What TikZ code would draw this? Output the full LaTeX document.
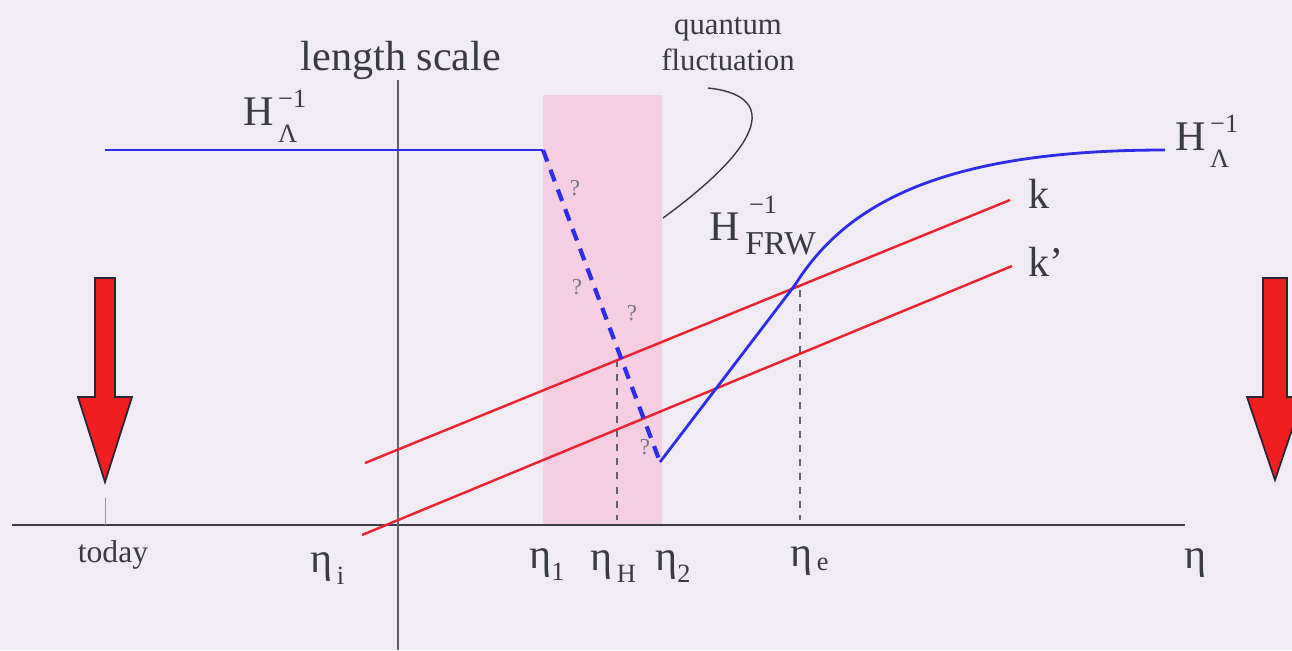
\documentclass[tikz,border=0pt]{standalone}
\usepackage{fontspec}
\setmainfont{Liberation Serif}
\definecolor{bg}{RGB}{241,236,243}
\definecolor{pinkband}{RGB}{245,206,225}
\definecolor{hblue}{RGB}{45,45,235}
\definecolor{kred}{RGB}{235,35,50}
\definecolor{txt}{RGB}{58,58,66}
\definecolor{axiscol}{RGB}{60,60,72}
\definecolor{arrred}{RGB}{240,30,30}
\definecolor{arredge}{RGB}{45,35,55}
\newcommand\bigfont{\fontsize{24}{28}\selectfont}
\newcommand\smallfont{\fontsize{15}{16}\selectfont}
\begin{document}
\begin{tikzpicture}[x=0.02cm,y=-0.02cm,
  lbl/.style={text=txt,inner sep=0pt,font=\bigfont},
  qmark/.style={text=txt!70,inner sep=0pt,font=\fontsize{13}{14}\selectfont},
  axisline/.style={draw=axiscol,line width=0.8pt},
  hline/.style={draw=hblue,line width=1.6pt},
  hdash/.style={draw=hblue,line width=2.4pt,dash pattern=on 7pt off 5pt},
  kline/.style={draw=kred,line width=1.4pt},
  guide/.style={draw=txt!80,line width=0.8pt,dash pattern=on 4pt off 4pt},
  bigarrow/.style={fill=arrred,draw=arredge,line width=1pt,line join=miter}]
\useasboundingbox (0,0) rectangle (1292,650);
\fill[bg] (0,0) rectangle (1292,650);
\clip (0,0) rectangle (1292,650);
% pink band
\fill[pinkband] (543,95) rectangle (662,525);
% axes
\coordinate (xl) at (12,525); \coordinate (xr) at (1185,525);
\coordinate (yt) at (398,80); \coordinate (yb) at (398,650);
\draw[axisline] (xl) -- (xr);
\draw[draw=axiscol!80,line width=0.7pt] (yt) -- (yb);
% today tick
\coordinate (tt) at (105,498); \coordinate (tb) at (105,525);
\draw[draw=txt!50,line width=0.5pt] (tt) -- (tb);
% dashed guides
\coordinate (gH) at (617,360); \coordinate (gHb) at (617,520);
\coordinate (gE) at (800,290); \coordinate (gEb) at (800,520);
\draw[guide] (gH) -- (gHb);
\draw[guide] (gE) -- (gEb);
% red k lines
\coordinate (k1a) at (365,463); \coordinate (k1b) at (1010,200);
\coordinate (k2a) at (362,535); \coordinate (k2b) at (1012,266);
\draw[kline] (k1a) -- (k1b);
\draw[kline] (k2a) -- (k2b);
% blue Hubble curve
\coordinate (b0) at (105,150); \coordinate (b1) at (543,150);
\coordinate (b2) at (660,462); \coordinate (b3) at (795,285);
\coordinate (b5) at (1165,150);
\draw[hline] (b0) -- (b1);
\draw[hdash] (b1) -- (b2);
\draw[hline,line join=round] (b2) -- (b3) .. controls (845,205) and (940,150) .. (b5);
% pointer curve
\coordinate (p0) at (708,88); \coordinate (p1) at (663,218);
\draw[draw=txt,line width=0.8pt] (p0) .. controls (775,95) and (770,140) .. (p1);
% red arrows
\filldraw[bigarrow] (95,278) -- (115,278) -- (115,397) -- (132,397) -- (105,482) -- (78,397) -- (95,397) -- cycle;
\filldraw[bigarrow] (1263,278) -- (1287,278) -- (1287,397) -- (1303,397) -- (1275,480) -- (1247,397) -- (1263,397) -- cycle;
% texts
\node[lbl,anchor=base] (ls) at (401,70) {length scale};
\node[lbl,anchor=center,align=center,font=\fontsize{17.5}{21}\selectfont] (qf) at (728,44) {quantum\\fluctuation};
\node[lbl,anchor=base west] (hl) at (243,125) {H\rlap{\raisebox{0.42em}{\smallfont\,−1}}\raisebox{-0.42em}{\smallfont\,Λ}};
\node[lbl,anchor=base west] (hr) at (1175,150) {H\rlap{\raisebox{0.42em}{\smallfont\,−1}}\raisebox{-0.42em}{\smallfont\,Λ}};
\node[lbl,anchor=base west] (hf) at (709,240) {H\rlap{\raisebox{0.63em}{\smallfont\hspace{0.35em}−1}}\raisebox{-0.35em}{\fontsize{19}{20}\selectfont\,FRW}};
\node[lbl,anchor=base west] (kk) at (1028,208) {k};
\node[lbl,anchor=base west] (kp) at (1028,276) {k’};
\node[lbl,anchor=base,font=\fontsize{18}{20}\selectfont] (today) at (113,562) {today};
\node[lbl,anchor=base west] (ei) at (310,572) {η\raisebox{-0.3em}{\smallfont\,i}};
\node[lbl,anchor=base west] (e1) at (529,568) {η\raisebox{-0.3em}{\smallfont 1}};
\node[lbl,anchor=base west] (eH) at (590,570) {η\raisebox{-0.3em}{\smallfont\,H}};
\node[lbl,anchor=base west] (e2) at (655,570) {η\raisebox{-0.3em}{\smallfont 2}};
\node[lbl,anchor=base west] (ee) at (790,566) {η\raisebox{-0.1em}{\smallfont\,e}};
\node[lbl,anchor=base west] (eta) at (1184,568) {η};
% question marks
\node[qmark] (q1) at (575,188) {?};
\node[qmark] (q2) at (577,287) {?};
\node[qmark] (q3) at (632,313) {?};
\node[qmark] (q4) at (645,447) {?};
\end{tikzpicture}
\end{document}
